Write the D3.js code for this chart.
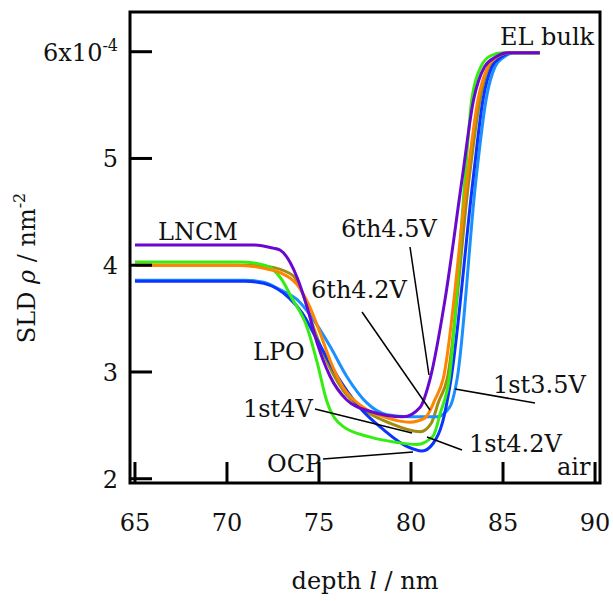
<!DOCTYPE html>
<html>
<head>
<meta charset="utf-8">
<script src="https://cdnjs.cloudflare.com/ajax/libs/d3/7.8.5/d3.min.js"></script>
<style>
  body { margin: 0; background: #fff; }
  text { font-family: "DejaVu Serif", serif; font-size: 24px; fill: #111; }
</style>
</head>
<body>
<div id="chart"></div>
<script>
// depth (nm) / SLD (x1e-4 nm^-2)
var depth_6th45 = [65, 71.5, 72.5, 72.9, 73.8, 74.35, 74.9, 75.6, 76.5, 77.8, 79.57, 80.5, 81.03, 81.85, 82.77, 83.4, 84.0, 84.6, 85.3, 87.0];
var sld_6th45   = [4.19, 4.19, 4.16, 4.14, 3.89, 3.61, 3.27, 2.96, 2.74, 2.63, 2.58, 2.67, 2.93, 3.68, 4.80, 5.55, 5.86, 5.95, 5.99, 5.99];

var depth_1st4 = [65, 70.7, 71.8, 72.5, 73.0, 73.5, 74.35, 74.9, 75.4, 76.3, 77.8, 79.24, 80.3, 81.2, 81.6, 82.07, 82.93, 83.3, 83.8, 84.3, 85.0, 87.0];
var sld_1st4   = [4.03, 4.03, 4.01, 3.96, 3.86, 3.70, 3.42, 3.09, 2.74, 2.49, 2.39, 2.34, 2.32, 2.40, 2.62, 2.93, 4.80, 5.55, 5.86, 5.96, 5.99, 5.99];

var depth_6th42 = [65, 71.5, 72.5, 73.6, 74.1, 74.7, 75.4, 76.3, 77.4, 78.86, 80.5, 81.1, 81.5, 81.96, 83.15, 83.75, 84.24, 84.73, 85.4, 87.0];
var sld_6th42   = [4.0, 4.0, 3.98, 3.90, 3.74, 3.42, 3.11, 2.83, 2.65, 2.52, 2.44, 2.52, 2.72, 2.93, 4.80, 5.55, 5.86, 5.95, 5.99, 5.99];

var depth_1st42 = [65, 70.5, 72.3, 72.9, 73.8, 74.5, 75.05, 75.6, 76.3, 77.4, 78.7, 79.95, 80.76, 81.3, 81.74, 83.04, 83.64, 84.18, 84.67, 85.4, 87.0];
var sld_1st42   = [4.0, 4.0, 3.96, 3.93, 3.82, 3.61, 3.37, 3.11, 2.86, 2.67, 2.57, 2.53, 2.57, 2.74, 2.93, 4.80, 5.55, 5.86, 5.95, 5.99, 5.99];

var depth_ocp = [65, 71.0, 72.0, 73.4, 74.1, 74.9, 76.0, 77.2, 78.5, 79.8, 80.6, 81.2, 81.7, 82.17, 83.37, 83.91, 84.4, 84.89, 85.5, 87.0];
var sld_ocp   = [3.85, 3.85, 3.83, 3.69, 3.55, 3.30, 2.96, 2.67, 2.46, 2.30, 2.26, 2.33, 2.52, 2.93, 4.80, 5.55, 5.86, 5.95, 5.99, 5.99];

var depth_1st35 = [65, 71.0, 72.0, 72.9, 73.8, 74.7, 75.6, 76.5, 77.6, 78.7, 79.95, 81.4, 82.1, 82.5, 83.53, 84.08, 84.57, 85.05, 85.6, 87.0];
var sld_1st35   = [3.86, 3.86, 3.84, 3.77, 3.68, 3.49, 3.24, 2.96, 2.71, 2.60, 2.58, 2.58, 2.67, 2.93, 4.80, 5.55, 5.86, 5.95, 5.99, 5.99];

var xTicks = [65, 70, 75, 80, 85, 90];
var yTicks = [2, 3, 4, 5, 6];

var series = [
	{ name: "6th4.2V", depth: depth_6th42, sld: sld_6th42, color: "#a08c10" },
	{ name: "1st3.5V", depth: depth_1st35, sld: sld_1st35, color: "#1a90ff" },
	{ name: "OCP",     depth: depth_ocp,   sld: sld_ocp,   color: "#0a34ff" },
	{ name: "1st4V",   depth: depth_1st4,  sld: sld_1st4,  color: "#33ee10" },
	{ name: "1st4.2V", depth: depth_1st42, sld: sld_1st42, color: "#ff8400" },
	{ name: "6th4.5V", depth: depth_6th45, sld: sld_6th45, color: "#6a08d0" }
];

var width = 613, height = 601;

var x = d3.scaleLinear().domain([64.73, 90.27]).range([130, 600]);
var y = d3.scaleLinear().domain([1.96, 6.372]).range([483, 12]);

var svg = d3.select("#chart").append("svg")
	.attr("width", width)
	.attr("height", height);

var line = d3.line()
	.x(function(d) { return x(d[0]); })
	.y(function(d) { return y(d[1]); })
	.curve(d3.curveMonotoneX);

svg.selectAll("path.profile")
	.data(series)
	.enter().append("path")
	.attr("class", "profile")
	.attr("fill", "none")
	.attr("stroke", function(d) { return d.color; })
	.attr("stroke-width", 3)
	.attr("stroke-linejoin", "round")
	.attr("d", function(d) { return line(d.depth.map(function(v, i) { return [v, d.sld[i]]; })); });

// frame
svg.append("rect")
	.attr("x", 130).attr("y", 12)
	.attr("width", 470).attr("height", 471)
	.attr("fill", "none")
	.attr("stroke", "#000")
	.attr("stroke-width", 3);

// inward ticks
svg.selectAll("line.xtick")
	.data(xTicks)
	.enter().append("line")
	.attr("x1", function(d) { return x(d); })
	.attr("x2", function(d) { return x(d); })
	.attr("y1", 483).attr("y2", 462)
	.attr("stroke", "#000").attr("stroke-width", 3);

svg.selectAll("line.ytick")
	.data(yTicks)
	.enter().append("line")
	.attr("x1", 130).attr("x2", 152)
	.attr("y1", function(d) { return y(d); })
	.attr("y2", function(d) { return y(d); })
	.attr("stroke", "#000").attr("stroke-width", 3);

svg.selectAll("text.xlab")
	.data(xTicks)
	.enter().append("text")
	.attr("x", function(d) { return x(d); })
	.attr("y", 531)
	.attr("text-anchor", "middle")
	.text(function(d) { return d; });

var ylab = svg.selectAll("text.ylab")
	.data(yTicks)
	.enter().append("text")
	.attr("x", 118)
	.attr("y", function(d) { return y(d) + 9; })
	.attr("text-anchor", "end");
ylab.text(function(d) { return d == 6 ? "" : d; });
ylab.filter(function(d) { return d == 6; })
	.each(function() {
		var t = d3.select(this);
		t.append("tspan").text("6x10");
		t.append("tspan").attr("dy", -10).attr("font-size", "16px").text("-4");
	});

// axis titles
var xt = svg.append("text").attr("x", 365).attr("y", 589).attr("text-anchor", "middle");
xt.append("tspan").text("depth ");
xt.append("tspan").attr("font-style", "italic").text("l");
xt.append("tspan").text(" / nm");

var yt = svg.append("text")
	.attr("transform", "translate(35,268) rotate(-90)")
	.attr("text-anchor", "middle");
yt.append("tspan").text("SLD ");
yt.append("tspan").attr("font-style", "italic").text("ρ");
yt.append("tspan").text(" / nm");
yt.append("tspan").attr("dy", -10).attr("font-size", "16px").text("-2");

// annotations
var labels = [
	{ t: "EL bulk", x: 500, y: 45 },
	{ t: "LNCM", x: 158, y: 240 },
	{ t: "LPO", x: 253, y: 360 },
	{ t: "6th4.5V", x: 341, y: 237 },
	{ t: "6th4.2V", x: 311, y: 298 },
	{ t: "1st4V", x: 243, y: 417 },
	{ t: "OCP", x: 267, y: 472 },
	{ t: "1st3.5V", x: 493, y: 393 },
	{ t: "1st4.2V", x: 469, y: 452 },
	{ t: "air", x: 557, y: 475 }
];
svg.selectAll("text.note")
	.data(labels)
	.enter().append("text")
	.attr("class", "note")
	.attr("x", function(d) { return d.x; })
	.attr("y", function(d) { return d.y; })
	.text(function(d) { return d.t; });

var leaders = [
	[410, 247, 429, 375],
	[362, 312, 430, 410],
	[315, 409, 412, 433],
	[427, 437, 462, 450],
	[323, 459, 413, 452],
	[455, 389, 535, 403]
];
svg.selectAll("line.leader")
	.data(leaders)
	.enter().append("line")
	.attr("x1", function(d) { return d[0]; })
	.attr("y1", function(d) { return d[1]; })
	.attr("x2", function(d) { return d[2]; })
	.attr("y2", function(d) { return d[3]; })
	.attr("stroke", "#000").attr("stroke-width", 1.5);
</script>
</body>
</html>
